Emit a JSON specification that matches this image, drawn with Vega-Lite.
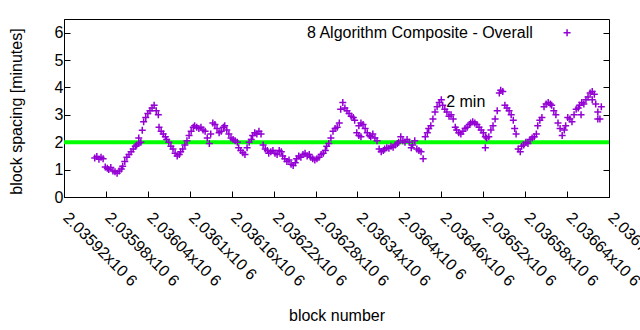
{
  "$schema": "https://vega.github.io/schema/vega-lite/v6.json",
  "width": 545,
  "height": 178,
  "autosize": {"type": "none"},
  "padding": {"left": 64, "top": 19, "right": 31, "bottom": 133},
  "background": "white",
  "config": {
    "view": {"stroke": "#000", "strokeWidth": 1},
    "font": "Liberation Sans",
    "axis": {
      "grid": false,
      "domainColor": "#000",
      "tickColor": "#000",
      "labelColor": "#000",
      "titleColor": "#000",
      "labelFont": "Liberation Sans",
      "titleFont": "Liberation Sans",
      "labelFontSize": 16,
      "titleFontSize": 16,
      "titleFontWeight": "normal",
      "tickSize": -6
    }
  },
  "resolve": {"axis": {"y": "independent"}},
  "layer": [
    {
      "data": {"values": [{"s": 2}]},
      "mark": {"type": "rule", "color": "#00ff00", "strokeWidth": 4},
      "encoding": {
        "y": {
          "field": "s", "type": "quantitative",
          "scale": {"domain": [0, 6.5]},
          "axis": {"orient": "right", "labels": false, "title": null, "values": [0, 1, 2, 3, 4, 5, 6], "domain": false}
        }
      }
    },
    {
      "data": {"values": [
        {"b":2035964,"s":1.42},{"b":2035967,"s":1.48},{"b":2035970,"s":1.38},{"b":2035973,"s":1.45},{"b":2035976,"s":1.40},
        {"b":2035979,"s":1.10},{"b":2035982,"s":1.05},{"b":2035984,"s":1.00},{"b":2035987,"s":1.08},{"b":2035990,"s":0.95},
        {"b":2035993,"s":0.92},{"b":2035996,"s":0.87},{"b":2035999,"s":0.95},{"b":2036002,"s":1.02},{"b":2036004,"s":1.12},
        {"b":2036007,"s":1.30},{"b":2036010,"s":1.45},{"b":2036013,"s":1.55},{"b":2036016,"s":1.65},{"b":2036019,"s":1.75},
        {"b":2036022,"s":1.85},{"b":2036024,"s":1.90},{"b":2036027,"s":2.15},{"b":2036027,"s":1.95},{"b":2036030,"s":2.00},
        {"b":2036032,"s":2.44},{"b":2036034,"s":2.75},{"b":2036037,"s":2.90},{"b":2036040,"s":3.05},{"b":2036043,"s":3.15},
        {"b":2036046,"s":3.25},{"b":2036049,"s":3.35},{"b":2036052,"s":3.15},{"b":2036055,"s":3.00},{"b":2036056,"s":2.55},
        {"b":2036059,"s":2.40},{"b":2036062,"s":2.30},{"b":2036065,"s":2.20},{"b":2036067,"s":2.10},{"b":2036070,"s":2.00},
        {"b":2036073,"s":1.85},{"b":2036076,"s":1.75},{"b":2036079,"s":1.60},{"b":2036082,"s":1.50},{"b":2036085,"s":1.55},
        {"b":2036087,"s":1.65},{"b":2036090,"s":1.75},{"b":2036093,"s":1.90},{"b":2036096,"s":2.05},{"b":2036099,"s":2.25},
        {"b":2036102,"s":2.40},{"b":2036105,"s":2.55},{"b":2036107,"s":2.60},{"b":2036110,"s":2.55},{"b":2036113,"s":2.50},
        {"b":2036116,"s":2.55},{"b":2036119,"s":2.45},{"b":2036122,"s":2.40},{"b":2036125,"s":2.15},{"b":2036128,"s":1.95},
        {"b":2036130,"s":2.30},{"b":2036133,"s":2.70},{"b":2036136,"s":2.65},{"b":2036139,"s":2.50},{"b":2036142,"s":2.35},
        {"b":2036145,"s":2.40},{"b":2036148,"s":2.55},{"b":2036150,"s":2.60},{"b":2036153,"s":2.45},{"b":2036156,"s":2.30},
        {"b":2036159,"s":2.15},{"b":2036162,"s":2.10},{"b":2036165,"s":2.05},{"b":2036168,"s":2.00},{"b":2036170,"s":1.80},
        {"b":2036173,"s":1.70},{"b":2036176,"s":1.62},{"b":2036179,"s":1.55},{"b":2036182,"s":1.80},{"b":2036185,"s":2.00},
        {"b":2036188,"s":2.10},{"b":2036190,"s":2.25},{"b":2036193,"s":2.35},{"b":2036196,"s":2.30},{"b":2036199,"s":2.40},
        {"b":2036202,"s":2.30},{"b":2036205,"s":1.90},{"b":2036208,"s":1.75},{"b":2036211,"s":1.70},{"b":2036213,"s":1.60},
        {"b":2036216,"s":1.65},{"b":2036219,"s":1.70},{"b":2036222,"s":1.60},{"b":2036225,"s":1.55},{"b":2036228,"s":1.70},
        {"b":2036231,"s":1.65},{"b":2036233,"s":1.50},{"b":2036236,"s":1.40},{"b":2036239,"s":1.30},{"b":2036242,"s":1.35},
        {"b":2036245,"s":1.20},{"b":2036248,"s":1.15},{"b":2036251,"s":1.25},{"b":2036253,"s":1.40},{"b":2036256,"s":1.50},
        {"b":2036259,"s":1.45},{"b":2036262,"s":1.55},{"b":2036265,"s":1.60},{"b":2036268,"s":1.50},{"b":2036271,"s":1.55},
        {"b":2036273,"s":1.45},{"b":2036276,"s":1.40},{"b":2036279,"s":1.35},{"b":2036282,"s":1.40},{"b":2036285,"s":1.45},
        {"b":2036288,"s":1.55},{"b":2036291,"s":1.60},{"b":2036294,"s":1.70},{"b":2036296,"s":1.85},{"b":2036299,"s":1.95},
        {"b":2036302,"s":2.15},{"b":2036305,"s":2.40},{"b":2036308,"s":2.50},{"b":2036311,"s":2.55},{"b":2036314,"s":2.70},
        {"b":2036316,"s":3.20},{"b":2036319,"s":3.45},{"b":2036322,"s":3.25},{"b":2036325,"s":3.15},{"b":2036328,"s":3.05},
        {"b":2036331,"s":2.95},{"b":2036334,"s":2.90},{"b":2036336,"s":2.80},{"b":2036339,"s":2.35},{"b":2036342,"s":2.25},
        {"b":2036342,"s":2.60},{"b":2036345,"s":2.70},{"b":2036345,"s":2.20},{"b":2036348,"s":2.65},{"b":2036351,"s":2.50},
        {"b":2036354,"s":2.35},{"b":2036357,"s":2.25},{"b":2036359,"s":2.20},{"b":2036362,"s":2.30},{"b":2036365,"s":2.15},
        {"b":2036368,"s":2.05},{"b":2036371,"s":1.75},{"b":2036374,"s":1.65},{"b":2036377,"s":1.70},{"b":2036379,"s":1.75},
        {"b":2036382,"s":1.80},{"b":2036385,"s":1.78},{"b":2036388,"s":1.85},{"b":2036391,"s":1.82},{"b":2036394,"s":1.90},
        {"b":2036397,"s":1.95},{"b":2036399,"s":2.00},{"b":2036402,"s":2.20},{"b":2036405,"s":2.05},{"b":2036408,"s":2.00},
        {"b":2036411,"s":2.10},{"b":2036414,"s":2.00},{"b":2036417,"s":1.80},{"b":2036419,"s":1.90},{"b":2036422,"s":2.05},
        {"b":2036425,"s":1.75},{"b":2036428,"s":1.70},{"b":2036431,"s":1.65},{"b":2036434,"s":1.40},{"b":2036437,"s":2.20},
        {"b":2036440,"s":2.35},{"b":2036442,"s":2.50},{"b":2036445,"s":2.60},{"b":2036448,"s":2.85},{"b":2036451,"s":3.10},
        {"b":2036454,"s":3.30},{"b":2036457,"s":3.45},{"b":2036460,"s":3.55},{"b":2036462,"s":3.35},{"b":2036465,"s":3.20},
        {"b":2036468,"s":3.10},{"b":2036471,"s":2.95},{"b":2036474,"s":3.00},{"b":2036477,"s":2.85},{"b":2036480,"s":2.55},
        {"b":2036482,"s":2.45},{"b":2036485,"s":2.35},{"b":2036488,"s":2.30},{"b":2036491,"s":2.40},{"b":2036494,"s":2.50},
        {"b":2036497,"s":2.55},{"b":2036500,"s":2.65},{"b":2036502,"s":2.70},{"b":2036505,"s":2.75},{"b":2036508,"s":2.70},
        {"b":2036511,"s":2.65},{"b":2036514,"s":2.55},{"b":2036517,"s":2.45},{"b":2036520,"s":2.35},{"b":2036523,"s":1.80},
        {"b":2036523,"s":2.20},{"b":2036525,"s":2.15},{"b":2036528,"s":2.20},{"b":2036531,"s":2.45},{"b":2036534,"s":2.60},
        {"b":2036537,"s":2.85},{"b":2036540,"s":3.15},{"b":2036543,"s":3.80},{"b":2036545,"s":3.90},{"b":2036548,"s":3.85},
        {"b":2036551,"s":3.35},{"b":2036554,"s":3.25},{"b":2036557,"s":3.15},{"b":2036560,"s":3.00},{"b":2036563,"s":2.80},
        {"b":2036565,"s":2.50},{"b":2036567,"s":2.30},{"b":2036570,"s":1.75},{"b":2036573,"s":1.65},{"b":2036575,"s":1.85},
        {"b":2036578,"s":1.90},{"b":2036581,"s":2.00},{"b":2036584,"s":1.95},{"b":2036587,"s":2.10},{"b":2036590,"s":2.15},
        {"b":2036593,"s":2.20},{"b":2036596,"s":2.30},{"b":2036598,"s":2.60},{"b":2036601,"s":2.80},{"b":2036604,"s":2.90},
        {"b":2036607,"s":3.30},{"b":2036610,"s":3.40},{"b":2036613,"s":3.45},{"b":2036616,"s":3.40},{"b":2036618,"s":3.35},
        {"b":2036621,"s":3.15},{"b":2036624,"s":3.00},{"b":2036627,"s":2.70},{"b":2036630,"s":2.50},{"b":2036633,"s":2.25},
        {"b":2036636,"s":2.45},{"b":2036638,"s":2.60},{"b":2036641,"s":2.90},{"b":2036644,"s":2.85},{"b":2036647,"s":2.75},
        {"b":2036650,"s":3.00},{"b":2036653,"s":3.20},{"b":2036656,"s":3.25},{"b":2036658,"s":3.35},{"b":2036660,"s":3.00},
        {"b":2036661,"s":3.45},{"b":2036664,"s":3.40},{"b":2036667,"s":3.55},{"b":2036670,"s":3.65},{"b":2036673,"s":3.80},
        {"b":2036676,"s":3.85},{"b":2036676,"s":3.55},{"b":2036679,"s":3.75},{"b":2036681,"s":3.40},{"b":2036684,"s":3.10},
        {"b":2036684,"s":2.85},{"b":2036687,"s":2.85},{"b":2036689,"s":3.30}
      ]},
      "mark": {"type": "point", "shape": "M-1,0H1M0,-1V1", "filled": false, "stroke": "#9400d3", "strokeWidth": 1.5, "size": 49, "opacity": 1},
      "encoding": {
        "x": {
          "field": "b", "type": "quantitative",
          "scale": {"domain": [2035920, 2036700], "nice": false, "zero": false},
          "axis": {
            "title": "block number",
            "values": [2035920, 2035980, 2036040, 2036100, 2036160, 2036220, 2036280, 2036340, 2036400, 2036460, 2036520, 2036580, 2036640, 2036700],
            "labelExpr": "format(datum.value / 1000000, '.5~f') + 'x10 6'",
            "labelAngle": 45,
            "labelAlign": "left",
            "labelBaseline": "top",
            "labelPadding": 18,
            "labelOffset": 7,
            "labelOverlap": false,
            "labelFlush": false,
            "labelBound": false,
            "titleY": 123,
            "titleBaseline": "alphabetic"
          }
        },
        "y": {
          "field": "s", "type": "quantitative",
          "scale": {"domain": [0, 6.5]},
          "axis": {
            "title": "block spacing [minutes]",
            "values": [0, 1, 2, 3, 4, 5, 6],
            "labelPadding": 7,
            "titleX": -40,
            "titleY": 92
          }
        }
      }
    },
    {
      "data": {"values": [{"b": 2036591, "s": 6.0, "t": "8 Algorithm Composite - Overall"}]},
      "mark": {"type": "text", "align": "right", "baseline": "middle", "fontSize": 16, "font": "Liberation Sans", "color": "#000"},
      "encoding": {
        "x": {"field": "b", "type": "quantitative"},
        "y": {"field": "s", "type": "quantitative", "axis": null},
        "text": {"field": "t"}
      }
    },
    {
      "data": {"values": [{"b": 2036640, "s": 6.0}]},
      "mark": {"type": "point", "shape": "M-1,0H1M0,-1V1", "filled": false, "stroke": "#9400d3", "strokeWidth": 1.5, "size": 49, "opacity": 1},
      "encoding": {
        "x": {"field": "b", "type": "quantitative"},
        "y": {"field": "s", "type": "quantitative", "axis": null}
      }
    },
    {
      "data": {"values": [{"b": 2036467, "s": 3.47, "t": "2 min"}]},
      "mark": {"type": "text", "align": "left", "baseline": "middle", "fontSize": 16, "font": "Liberation Sans", "color": "#000"},
      "encoding": {
        "x": {"field": "b", "type": "quantitative"},
        "y": {"field": "s", "type": "quantitative", "axis": null},
        "text": {"field": "t"}
      }
    }
  ]
}
